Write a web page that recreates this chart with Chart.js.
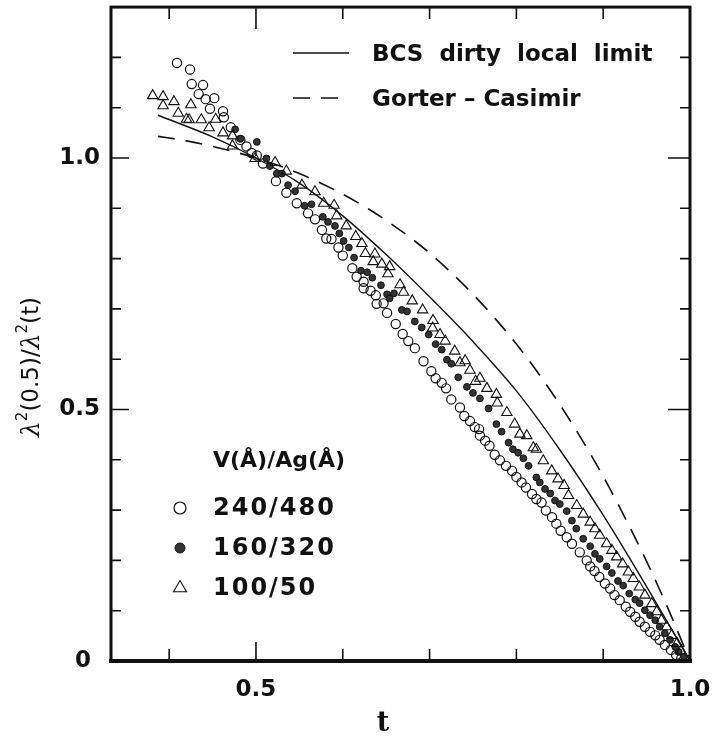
<!DOCTYPE html>
<html><head><meta charset="utf-8">
<script src="https://cdn.jsdelivr.net/npm/chart.js@4.4.0/dist/chart.umd.min.js"></script>
<style>html,body{margin:0;padding:0;background:#fff}canvas{display:block}</style>
</head><body>
<canvas id="c" width="712" height="741"></canvas>
<script>
// ---------- data ----------
const seriesNames = ['240/480', '160/320', '100/50'];
const legendHeader = 'V(\u00C5)/Ag(\u00C5)';
const lineNames = ['BCS  dirty  local  limit', 'Gorter \u2013 Casimir'];

// open circles, V 240 / Ag 480
const t240 = [0.409,0.424,0.426,0.434,0.439,0.442,0.447,0.452,0.462,0.463,0.471,0.482,0.489,0.495,0.501,0.508,0.523,0.535,0.547,0.560,0.568,0.576,0.581,0.587,0.595,0.600,0.611,0.616,0.624,0.624,0.632,0.638,0.639,0.647,0.651,0.661,0.669,0.6755,0.683,0.693,0.702,0.707,0.714,0.719,0.725,0.735,0.740,0.7465,0.752,0.757,0.758,0.764,0.769,0.775,0.781,0.788,0.795,0.800,0.806,0.811,0.818,0.823,0.829,0.834,0.841,0.846,0.851,0.858,0.864,0.873,0.881,0.885,0.890,0.8955,0.902,0.908,0.913,0.919,0.926,0.931,0.937,0.942,0.948,0.954,0.960,0.965,0.971,0.978,0.984,0.990,0.996];
const v240 = [1.189,1.176,1.147,1.127,1.145,1.117,1.098,1.119,1.093,1.081,1.061,1.036,1.023,1.010,1.005,0.989,0.954,0.931,0.910,0.890,0.878,0.857,0.840,0.839,0.822,0.806,0.781,0.764,0.754,0.741,0.736,0.727,0.710,0.711,0.692,0.670,0.650,0.636,0.622,0.596,0.576,0.562,0.553,0.542,0.520,0.504,0.487,0.477,0.465,0.461,0.448,0.438,0.428,0.410,0.399,0.388,0.378,0.366,0.355,0.345,0.332,0.322,0.315,0.299,0.286,0.273,0.259,0.246,0.233,0.216,0.200,0.188,0.179,0.167,0.154,0.144,0.131,0.121,0.108,0.098,0.088,0.078,0.068,0.058,0.051,0.042,0.032,0.022,0.012,0.005,0.002];

// filled circles, V 160 / Ag 320
const t160 = [0.476,0.482,0.501,0.512,0.516,0.524,0.530,0.537,0.545,0.556,0.564,0.577,0.583,0.591,0.596,0.601,0.607,0.613,0.621,0.628,0.634,0.644,0.651,0.654,0.659,0.668,0.674,0.683,0.691,0.699,0.707,0.714,0.720,0.725,0.733,0.743,0.750,0.758,0.768,0.777,0.783,0.791,0.796,0.802,0.808,0.814,0.823,0.827,0.833,0.839,0.8445,0.850,0.858,0.864,0.869,0.877,0.885,0.8905,0.896,0.904,0.910,0.917,0.923,0.930,0.937,0.942,0.948,0.954,0.960,0.965,0.971,0.977,0.983,0.987,0.993];
const v160 = [1.057,1.038,1.032,0.999,0.984,0.969,0.969,0.946,0.934,0.905,0.908,0.883,0.873,0.865,0.850,0.835,0.822,0.802,0.776,0.773,0.762,0.747,0.729,0.721,0.731,0.698,0.695,0.675,0.663,0.649,0.630,0.619,0.599,0.591,0.564,0.545,0.533,0.522,0.502,0.471,0.456,0.434,0.421,0.414,0.403,0.388,0.365,0.355,0.342,0.333,0.319,0.312,0.298,0.279,0.263,0.243,0.228,0.213,0.203,0.188,0.175,0.159,0.150,0.134,0.122,0.115,0.101,0.091,0.081,0.068,0.055,0.042,0.028,0.018,0.008];

// triangles, V 100 / Ag 50
const t100 = [0.381,0.393,0.393,0.4055,0.4105,0.420,0.423,0.425,0.437,0.446,0.4536,0.462,0.473,0.473,0.499,0.522,0.535,0.553,0.568,0.578,0.590,0.593,0.604,0.615,0.622,0.626,0.635,0.637,0.645,0.652,0.654,0.666,0.670,0.680,0.692,0.704,0.7035,0.712,0.718,0.729,0.735,0.741,0.7465,0.753,0.758,0.766,0.777,0.778,0.789,0.798,0.804,0.812,0.8195,0.823,0.831,0.8407,0.848,0.855,0.860,0.8695,0.877,0.885,0.8905,0.896,0.904,0.910,0.9155,0.9225,0.929,0.9347,0.9416,0.948,0.956,0.9616,0.967,0.973,0.979,0.985,0.990];
const v100 = [1.124,1.122,1.104,1.112,1.089,1.077,1.076,1.106,1.076,1.060,1.077,1.050,1.044,1.024,0.999,0.991,0.974,0.946,0.933,0.910,0.906,0.885,0.865,0.844,0.830,0.810,0.794,0.809,0.789,0.770,0.784,0.748,0.733,0.716,0.698,0.677,0.662,0.649,0.636,0.616,0.593,0.597,0.578,0.556,0.562,0.542,0.530,0.513,0.494,0.471,0.451,0.448,0.424,0.421,0.398,0.378,0.362,0.349,0.329,0.309,0.292,0.276,0.263,0.250,0.233,0.220,0.207,0.193,0.177,0.164,0.147,0.131,0.114,0.098,0.081,0.068,0.051,0.035,0.020];

// BCS dirty local limit (solid)
const tBCS = [0.387,0.450,0.500,0.550,0.600,0.650,0.700,0.750,0.800,0.850,0.900,0.950,1.000];
const vBCS = [1.085,1.042,1.000,0.950,0.885,0.808,0.724,0.635,0.537,0.420,0.290,0.148,0.000];

// Gorter-Casimir (dashed)
const tGC = [0.387,0.420,0.450,0.500,0.550,0.600,0.650,0.700,0.750,0.800,0.850,0.900,0.950,0.975,1.000];
const vGC = [1.043,1.034,1.023,1.000,0.969,0.928,0.876,0.811,0.729,0.630,0.510,0.367,0.198,0.103,0.000];

// axis ticks
const xRange = [0.333, 1.0];
const yRange = [0, 1.3];
const xTickLabels = [0.5, 1.0];
const yTickLabels = [0, 0.5, 1.0];
const xMinorTicks = [0.4, 0.5, 0.6, 0.7, 0.8, 0.9];
const yMinorTicks = [0.1, 0.2, 0.3, 0.4, 0.5, 0.6, 0.7, 0.8, 0.9, 1.0, 1.1, 1.2];
const xMajorTicks = [0.5];
const yMajorTicks = [0.5, 1.0];

// ---------- chart ----------
const zip = (t, v) => t.map((x, i) => ({x, y: v[i]}));
const INK = '#111';
const FONT = 'DejaVu Sans';

const datasets = [
  {label: lineNames[0], type: 'line', data: zip(tBCS, vBCS), borderColor: INK, borderWidth: 1.4,
   pointRadius: 0, fill: false, cubicInterpolationMode: 'monotone', order: 5},
  {label: lineNames[1], type: 'line', data: zip(tGC, vGC), borderColor: INK, borderWidth: 1.6,
   borderDash: [17, 11], pointRadius: 0, fill: false, cubicInterpolationMode: 'monotone', order: 4},
  {label: seriesNames[0], data: zip(t240, v240), pointStyle: 'circle', pointRadius: 4.6,
   backgroundColor: 'rgba(255,255,255,0)', borderColor: INK, borderWidth: 1.2, showLine: false, order: 3},
  {label: seriesNames[1], data: zip(t160, v160), pointStyle: 'circle', pointRadius: 3.4,
   backgroundColor: '#333', borderColor: '#111', borderWidth: 1, showLine: false, order: 2},
  {label: seriesNames[2], data: zip(t100, v100), pointStyle: 'triangle', pointRadius: 6,
   backgroundColor: 'rgba(255,255,255,0)', borderColor: INK, borderWidth: 1.1, showLine: false, order: 1}
];

const framePlugin = {
  id: 'frame',
  afterDatasetsDraw(chart) {
    const {ctx, chartArea: a, scales: {x, y}} = chart;
    ctx.save();
    ctx.strokeStyle = INK;
    ctx.lineWidth = 3;
    ctx.strokeRect(a.left, a.top, a.right - a.left, a.bottom - a.top);
    ctx.lineWidth = 4;
    ctx.beginPath(); ctx.moveTo(a.left - 2, a.bottom); ctx.lineTo(a.right + 2, a.bottom); ctx.stroke();
    ctx.lineWidth = 1.6;
    ctx.beginPath();
    xMinorTicks.forEach(v => {
      const p = x.getPixelForValue(v);
      const big = xMajorTicks.includes(v);
      ctx.moveTo(p, a.bottom); ctx.lineTo(p, a.bottom - (big ? 19 : 12));
      ctx.moveTo(p, a.top); ctx.lineTo(p, a.top + (big ? 22 : 12));
    });
    yMinorTicks.forEach(v => {
      const p = y.getPixelForValue(v);
      const big = yMajorTicks.includes(v);
      ctx.moveTo(a.left, p); ctx.lineTo(a.left + (big ? 18 : 10), p);
      ctx.moveTo(a.right, p); ctx.lineTo(a.right - (big ? 22 : 10), p);
    });
    ctx.stroke();

    // tick labels, placed through the scales
    ctx.fillStyle = INK;
    ctx.font = 'bold 23px "' + FONT + '"';
    ctx.textBaseline = 'middle';
    ctx.textAlign = 'center';
    xTickLabels.forEach(v => ctx.fillText(v.toFixed(1), x.getPixelForValue(v), a.bottom + 29));
    ctx.textAlign = 'right';
    yTickLabels.forEach(v => {
      const s = v === 0 ? '0' : v.toFixed(1);
      ctx.fillText(s, v === 0 ? a.left - 20 : a.left - 11, y.getPixelForValue(v));
    });
    ctx.restore();
  },
  afterDraw(chart) {
    const {ctx} = chart;
    const ds = chart.data.datasets;
    ctx.save();
    ctx.fillStyle = INK;
    // line legend (top right)
    [[0, 53], [1, 98]].forEach(([i, yy]) => {
      ctx.save();
      ctx.strokeStyle = ds[i].borderColor; ctx.lineWidth = ds[i].borderWidth;
      ctx.setLineDash(ds[i].borderDash || []);
      ctx.beginPath(); ctx.moveTo(293, yy); ctx.lineTo(349, yy); ctx.stroke();
      ctx.restore();
      ctx.font = 'bold 23px "' + FONT + '"';
      ctx.textBaseline = 'middle'; ctx.textAlign = 'left';
      ctx.fillText(ds[i].label, 372, yy + 2);
    });
    // marker legend (lower left)
    ctx.font = 'bold 22px "' + FONT + '"';
    ctx.textBaseline = 'middle';
    ctx.fillText(legendHeader, 213, 461);
    [[2, 508], [3, 548], [4, 588]].forEach(([i, yy]) => {
      const d = ds[i];
      ctx.save();
      ctx.fillStyle = d.backgroundColor; ctx.strokeStyle = d.borderColor; ctx.lineWidth = d.borderWidth;
      Chart.helpers.drawPoint(ctx, {
        pointStyle: d.pointStyle, radius: d.pointStyle === 'triangle' ? 7.5 : (i === 3 ? 5 : 6),
        borderWidth: d.borderWidth, rotation: 0
      }, 180, yy);
      ctx.restore();
      ctx.fillStyle = INK;
      ctx.font = 'bold 24px "' + FONT + '"';
      try { ctx.letterSpacing = '2px'; } catch (e) {}
      ctx.fillText(d.label, 213, yy + 1);
      try { ctx.letterSpacing = '0px'; } catch (e) {}
    });
    // y title (rotated)
    ctx.save();
    ctx.translate(31, 367);
    ctx.rotate(-Math.PI / 2);
    const parts = [
      ['italic 25px "DejaVu Serif"', '\u03BB', 0],
      ['15px "DejaVu Sans"', '2', -9],
      ['23px "DejaVu Sans"', '(0.5)/', 0],
      ['italic 25px "DejaVu Serif"', '\u03BB', 0],
      ['15px "DejaVu Sans"', '2', -9],
      ['23px "DejaVu Sans"', '(t)', 0]
    ];
    let w = 0;
    parts.forEach(p => { ctx.font = p[0]; w += ctx.measureText(p[1]).width; });
    let xx = -w / 2;
    ctx.textBaseline = 'middle'; ctx.textAlign = 'left';
    parts.forEach(p => { ctx.font = p[0]; ctx.fillText(p[1], xx, p[2] + 1); xx += ctx.measureText(p[1]).width; });
    ctx.restore();
    // x title
    ctx.font = 'bold 27px "DejaVu Serif"';
    ctx.textAlign = 'center'; ctx.textBaseline = 'middle';
    ctx.fillText('t', 383, 724);
    ctx.restore();
  }
};

new Chart(document.getElementById('c'), {
  type: 'scatter',
  data: {datasets},
  options: {
    responsive: false,
    animation: false,
    devicePixelRatio: 1,
    layout: {padding: {top: 4, right: 22, left: 0, bottom: 0}},
    plugins: {legend: {display: false}, tooltip: {enabled: false}},
    scales: {
      x: {
        type: 'linear', min: xRange[0], max: xRange[1],
        afterBuildTicks: s => { s.ticks = xTickLabels.map(v => ({value: v})); },
        afterFit: s => { s.height = 80; },
        grid: {display: false, drawTicks: false},
        border: {display: false},
        ticks: {display: false}
      },
      y: {
        type: 'linear', min: yRange[0], max: yRange[1],
        afterBuildTicks: s => { s.ticks = yTickLabels.map(v => ({value: v})); },
        afterFit: s => { s.width = 111; },
        grid: {display: false, drawTicks: false},
        border: {display: false},
        ticks: {display: false}
      }
    }
  },
  plugins: [framePlugin]
});
</script>
</body></html>
